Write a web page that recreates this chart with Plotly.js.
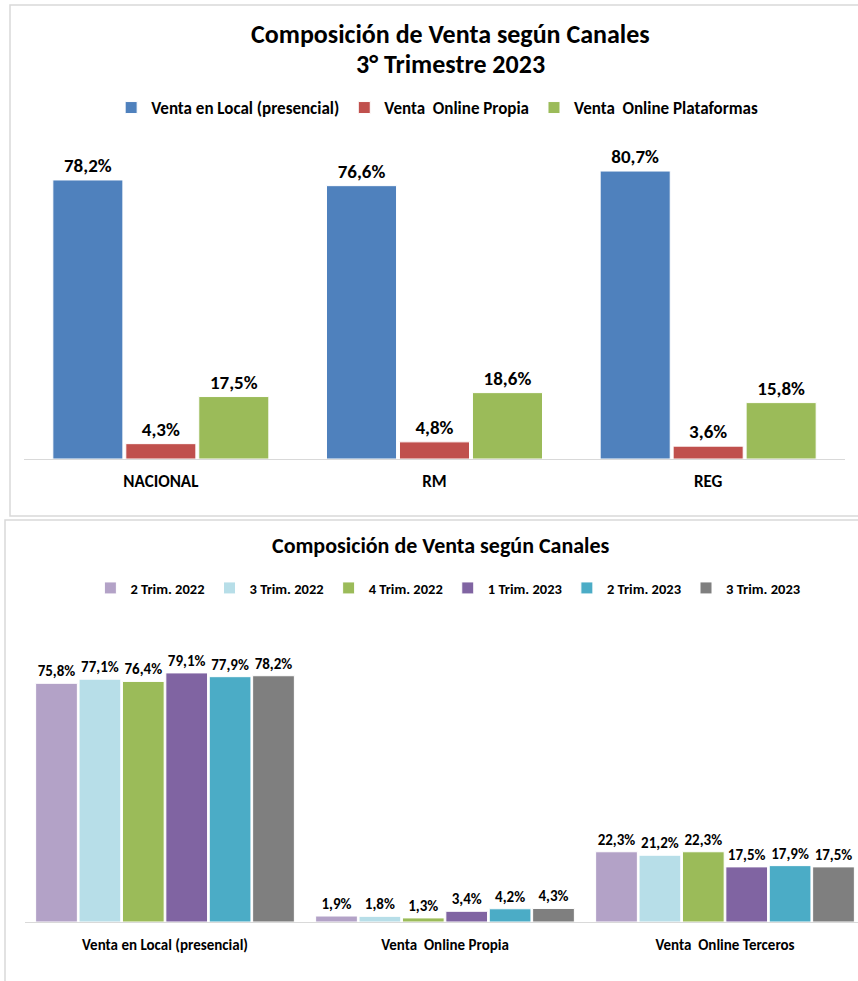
<!DOCTYPE html>
<html><head><meta charset="utf-8">
<script src="https://cdn.plot.ly/plotly-3.0.1.min.js"></script>
<style>html,body{margin:0;padding:0;background:#fff;}#chart{width:858px;height:981px;}</style>
</head><body><div id="chart"></div>
<script>
// ---- Top chart data ----
const regions = ['NACIONAL', 'RM', 'REG'];
const topSeriesNames = ['Venta en Local (presencial)', 'Venta  Online Propia', 'Venta  Online Plataformas'];
const ventaLocal = [78.2, 76.6, 80.7];
const ventaOnlinePropia = [4.3, 4.8, 3.6];
const ventaOnlinePlataformas = [17.5, 18.6, 15.8];
const topColors = ['#4F81BD', '#C0504D', '#9BBB59'];

// ---- Bottom chart data ----
const channels = ['Venta en Local (presencial)', 'Venta  Online Propia', 'Venta  Online Terceros'];
const quarters = ['2 Trim. 2022', '3 Trim. 2022', '4 Trim. 2022', '1 Trim. 2023', '2 Trim. 2023', '3 Trim. 2023'];
const q2_2022 = [75.8, 1.9, 22.3];
const q3_2022 = [77.1, 1.8, 21.2];
const q4_2022 = [76.4, 1.3, 22.3];
const q1_2023 = [79.1, 3.4, 17.5];
const q2_2023 = [77.9, 4.2, 17.9];
const q3_2023 = [78.2, 4.3, 17.5];
const quarterColors = ['#B3A2C7', '#B7DEE8', '#9BBB59', '#8064A2', '#4BACC6', '#7F7F7F'];

const FONT = "Calibri, Carlito, 'Liberation Sans Narrow', 'DejaVu Sans Condensed', sans-serif";
const fmt = v => '<b>' + v.toFixed(1).replace('.', ',') + '%</b>';
const bold = s => '<b>' + s + '</b>';

const traces = [];
[ventaLocal, ventaOnlinePropia, ventaOnlinePlataformas].forEach((vals, i) => {
  traces.push({
    type: 'bar', x: regions, y: vals, name: bold(topSeriesNames[i]),
    marker: {color: topColors[i], line: {color: '#ffffff', width: 1}},
    text: vals.map(fmt), textposition: 'outside', cliponaxis: false,
    textfont: {family: FONT, size: 19, color: '#000'},
    xaxis: 'x', yaxis: 'y', legend: 'legend', hoverinfo: 'skip'
  });
});
// bottom chart: slot layout for 6 bars per category
const slot = 0.155, barW = 0.149;
[q2_2022, q3_2022, q4_2022, q1_2023, q2_2023, q3_2023].forEach((vals, i) => {
  traces.push({
    type: 'bar', x: channels, y: vals, name: bold(quarters[i]),
    width: barW, offset: -3 * slot + i * slot + (slot - barW) / 2,
    marker: {color: quarterColors[i], line: {color: '#ffffff', width: 1}},
    text: vals.map(fmt), textposition: 'outside', cliponaxis: false,
    textfont: {family: FONT, size: 15, color: '#000'},
    xaxis: 'x2', yaxis: 'y2', legend: 'legend2', hoverinfo: 'skip'
  });
});

const W = 858, H = 981;
const px = x => x / W;
const py = y => (H - y) / H;

const layout = {
  width: W, height: H,
  margin: {l: 0, r: 0, t: 0, b: 0},
  paper_bgcolor: '#fff', plot_bgcolor: 'rgba(0,0,0,0)',
  font: {family: FONT, color: '#000'},
  barmode: 'group',
  bargap: 0.2, bargroupgap: 0.04,
  showlegend: true,
  xaxis: {domain: [px(24), px(845)], range: [-0.5, 2.5], showgrid: false, zeroline: false,
    showline: true, linecolor: '#D9D9D9', linewidth: 1, ticks: '',
    tickmode: 'array', tickvals: regions, ticktext: regions.map(bold), ticklabelstandoff: 7,
    tickfont: {family: FONT, size: 17, color: '#000'}, anchor: 'y', fixedrange: true},
  yaxis: {domain: [py(459), py(140)], range: [0, 89.4], visible: false, anchor: 'x', fixedrange: true},
  xaxis2: {domain: [px(25), 1], range: [-0.5, 2.475], showgrid: false, zeroline: false,
    showline: true, linecolor: '#D9D9D9', linewidth: 1, ticks: '',
    tickmode: 'array', tickvals: channels, ticktext: channels.map(bold), ticklabelstandoff: 9,
    tickfont: {family: FONT, size: 15, color: '#000'}, anchor: 'y2', fixedrange: true},
  yaxis2: {domain: [py(922), py(620)], range: [0, 95.9], visible: false, anchor: 'x2', fixedrange: true},
  legend: {orientation: 'h', x: 0.5095, xanchor: 'center', y: py(108), yanchor: 'middle',
    font: {family: FONT, size: 17, color: '#000'}, bgcolor: 'rgba(0,0,0,0)', itemclick: false,
    itemwidth: 30},
  legend2: {orientation: 'h', x: 0.522, xanchor: 'center', y: py(588), yanchor: 'middle',
    font: {family: FONT, size: 14.5, color: '#000'}, bgcolor: 'rgba(0,0,0,0)', itemclick: false,
    itemwidth: 30},
  annotations: [
    {text: '<b>Composición de Venta según Canales</b>', xref: 'paper', yref: 'paper',
     x: 0.525, y: py(34), xanchor: 'center', yanchor: 'middle', showarrow: false,
     font: {family: FONT, size: 26, color: '#000'}},
    {text: '<b>3° Trimestre 2023</b>', xref: 'paper', yref: 'paper',
     x: 0.525, y: py(64), xanchor: 'center', yanchor: 'middle', showarrow: false,
     font: {family: FONT, size: 26, color: '#000'}},
    {text: '<b>Composición de Venta según Canales</b>', xref: 'paper', yref: 'paper',
     x: 0.514, y: py(545), xanchor: 'center', yanchor: 'middle', showarrow: false,
     font: {family: FONT, size: 22, color: '#000'}}
  ],
  shapes: [
    {type: 'rect', xref: 'paper', yref: 'paper', x0: px(10), x1: px(870), y0: py(516), y1: py(5),
     line: {color: '#D9D9D9', width: 1.5}, fillcolor: 'rgba(0,0,0,0)', layer: 'below'},
    {type: 'rect', xref: 'paper', yref: 'paper', x0: px(5), x1: px(870), y0: py(990), y1: py(520),
     line: {color: '#D9D9D9', width: 1.5}, fillcolor: 'rgba(0,0,0,0)', layer: 'below'}
  ]
};

Plotly.newPlot('chart', traces, layout, {displayModeBar: false, staticPlot: true});
</script></body></html>
